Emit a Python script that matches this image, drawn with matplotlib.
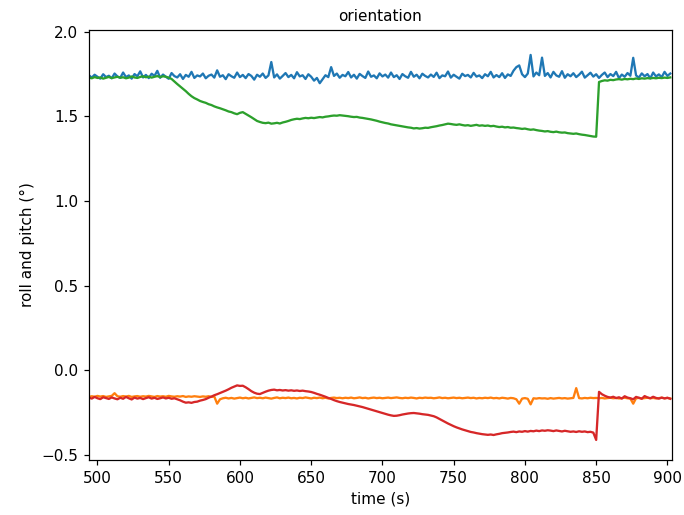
import numpy as np
import matplotlib
matplotlib.use("Agg")
import matplotlib.pyplot as plt

# time axis, one sample every 2 s
t = np.arange(494, 903, 2)

roll_a = [
    1.742, 1.728, 1.745, 1.733, 1.722, 1.748, 1.731, 1.739, 1.724, 1.752,
    1.735, 1.727, 1.758, 1.731, 1.741, 1.722, 1.749, 1.736, 1.765, 1.729,
    1.744, 1.725, 1.751, 1.738, 1.768, 1.727, 1.746, 1.733, 1.721, 1.755,
    1.737, 1.729, 1.748, 1.720, 1.744, 1.733, 1.762, 1.726, 1.741, 1.735,
    1.752, 1.724, 1.739, 1.746, 1.728, 1.771, 1.733, 1.742, 1.719, 1.748,
    1.736, 1.727, 1.758, 1.731, 1.744, 1.725, 1.749, 1.738, 1.716, 1.745,
    1.733, 1.752, 1.726, 1.741, 1.820, 1.729, 1.747, 1.722, 1.738, 1.755,
    1.731, 1.744, 1.724, 1.760, 1.735, 1.742, 1.720, 1.748, 1.733, 1.710,
    1.726, 1.695, 1.718, 1.742, 1.731, 1.790, 1.738, 1.752, 1.727, 1.744,
    1.736, 1.761, 1.729, 1.745, 1.722, 1.750, 1.737, 1.726, 1.764, 1.733,
    1.741, 1.724, 1.753, 1.735, 1.746, 1.728, 1.758, 1.731, 1.742, 1.720,
    1.749, 1.736, 1.727, 1.762, 1.733, 1.745, 1.724, 1.751, 1.738, 1.729,
    1.746, 1.732, 1.757, 1.725, 1.741, 1.736, 1.764, 1.728, 1.745, 1.733,
    1.722, 1.751, 1.737, 1.744, 1.729, 1.756, 1.734, 1.741, 1.725, 1.748,
    1.736, 1.762, 1.729, 1.743, 1.731, 1.754, 1.726, 1.747, 1.738, 1.769,
    1.790, 1.800, 1.748, 1.731, 1.752, 1.862, 1.735, 1.758, 1.742, 1.846,
    1.738, 1.755, 1.729, 1.762, 1.741, 1.733, 1.766, 1.727, 1.748, 1.736,
    1.754, 1.731, 1.745, 1.763, 1.728, 1.742, 1.757, 1.734, 1.748, 1.726,
    1.744, 1.758, 1.731, 1.749, 1.737, 1.762, 1.725, 1.746, 1.733, 1.755,
    1.739, 1.845, 1.741, 1.728, 1.753, 1.736, 1.749, 1.724, 1.758, 1.735,
    1.747, 1.731, 1.762, 1.738, 1.752,
]

pitch_a = [
    -0.158, -0.154, -0.157, -0.152, -0.156, -0.153, -0.158, -0.155, -0.152, -0.136,
    -0.154, -0.157, -0.153, -0.156, -0.152, -0.158, -0.155, -0.153, -0.157, -0.154,
    -0.156, -0.152, -0.155, -0.158, -0.153, -0.156, -0.154, -0.157, -0.152, -0.155,
    -0.157, -0.154, -0.156, -0.153, -0.158, -0.155, -0.157, -0.154, -0.156, -0.158,
    -0.155, -0.157, -0.154, -0.158, -0.156, -0.198, -0.172, -0.166, -0.163, -0.167,
    -0.164, -0.168, -0.165, -0.162, -0.166, -0.163, -0.167, -0.164, -0.161, -0.165,
    -0.163, -0.166, -0.162, -0.165, -0.168, -0.164, -0.161, -0.166, -0.163, -0.165,
    -0.162, -0.166, -0.164, -0.167, -0.163, -0.165, -0.161, -0.164, -0.167, -0.163,
    -0.165, -0.162, -0.166, -0.163, -0.167, -0.164, -0.162, -0.165, -0.163, -0.166,
    -0.163, -0.165, -0.162, -0.166, -0.164, -0.161, -0.165, -0.163, -0.167, -0.164,
    -0.162, -0.165, -0.163, -0.166, -0.164, -0.162, -0.165, -0.163, -0.161, -0.164,
    -0.166, -0.163, -0.165, -0.162, -0.164, -0.167, -0.163, -0.165, -0.162, -0.164,
    -0.163, -0.166, -0.164, -0.161, -0.165, -0.163, -0.166, -0.164, -0.162, -0.165,
    -0.163, -0.166, -0.164, -0.162, -0.165, -0.163, -0.167, -0.164, -0.166, -0.163,
    -0.165, -0.162, -0.166, -0.164, -0.167, -0.163, -0.165, -0.168, -0.164, -0.166,
    -0.172, -0.198, -0.168, -0.165, -0.169, -0.202, -0.166, -0.168, -0.165, -0.167,
    -0.166, -0.169, -0.165, -0.168, -0.166, -0.164, -0.167, -0.165, -0.168, -0.166,
    -0.164, -0.106, -0.165, -0.167, -0.164, -0.166, -0.163, -0.165, -0.164, -0.166,
    -0.164, -0.167, -0.165, -0.163, -0.166, -0.164, -0.167, -0.165, -0.163, -0.166,
    -0.168, -0.198, -0.166, -0.164, -0.167, -0.165, -0.163, -0.166, -0.164, -0.167,
    -0.165, -0.163, -0.166, -0.164, -0.167,
]

roll_b = [
    1.728, 1.724, 1.731, 1.726, 1.729, 1.722, 1.727, 1.732, 1.725, 1.729,
    1.733, 1.727, 1.730, 1.724, 1.728, 1.735, 1.729, 1.726, 1.732, 1.736,
    1.730, 1.734, 1.728, 1.733, 1.737, 1.731, 1.736, 1.733, 1.728, 1.720,
    1.705, 1.690, 1.676, 1.662, 1.648, 1.632, 1.618, 1.607, 1.599, 1.590,
    1.584, 1.579, 1.571, 1.566, 1.558, 1.552, 1.547, 1.541, 1.535, 1.528,
    1.524, 1.517, 1.512, 1.520, 1.524, 1.514, 1.504, 1.494, 1.483, 1.472,
    1.466, 1.461, 1.459, 1.462, 1.456, 1.458, 1.461, 1.457, 1.463, 1.467,
    1.472, 1.478, 1.482, 1.485, 1.483, 1.487, 1.490, 1.488, 1.491, 1.489,
    1.492, 1.495, 1.493, 1.497, 1.499, 1.502, 1.504, 1.503, 1.506, 1.504,
    1.502, 1.500, 1.497, 1.495, 1.496, 1.492, 1.490, 1.487, 1.484, 1.481,
    1.477, 1.473, 1.468, 1.464, 1.460, 1.457, 1.452, 1.449, 1.446, 1.443,
    1.440, 1.437, 1.434, 1.432, 1.428, 1.430, 1.427, 1.429, 1.432, 1.431,
    1.435, 1.438, 1.441, 1.445, 1.448, 1.452, 1.456, 1.454, 1.451, 1.449,
    1.452, 1.448, 1.445, 1.447, 1.443, 1.446, 1.449, 1.444, 1.446, 1.443,
    1.445, 1.441, 1.443, 1.439, 1.436, 1.438, 1.434, 1.436, 1.432, 1.433,
    1.430, 1.428, 1.425, 1.427, 1.423, 1.420, 1.422, 1.418, 1.415, 1.413,
    1.410, 1.412, 1.408, 1.406, 1.409, 1.405, 1.403, 1.404, 1.400, 1.398,
    1.396, 1.398, 1.394, 1.391, 1.389, 1.386, 1.383, 1.380, 1.379, 1.702,
    1.708, 1.712, 1.710, 1.715, 1.713, 1.717, 1.719, 1.716, 1.720, 1.718,
    1.721, 1.719, 1.723, 1.720, 1.724, 1.722, 1.725, 1.723, 1.726, 1.724,
    1.727, 1.725, 1.728, 1.726, 1.729,
]

pitch_b = [
    -0.162, -0.168, -0.158, -0.166, -0.171, -0.160, -0.165, -0.170, -0.161, -0.167,
    -0.172, -0.163, -0.169, -0.158, -0.166, -0.173, -0.162, -0.168, -0.164, -0.171,
    -0.165, -0.160, -0.168, -0.163, -0.170, -0.166, -0.161, -0.167, -0.163, -0.169,
    -0.166, -0.172, -0.178, -0.186, -0.192, -0.190, -0.193, -0.188, -0.186, -0.180,
    -0.176, -0.171, -0.163, -0.156, -0.148, -0.142, -0.135, -0.128, -0.121, -0.113,
    -0.104, -0.097, -0.090, -0.093, -0.092, -0.101, -0.112, -0.124, -0.133, -0.139,
    -0.141, -0.134, -0.127, -0.121, -0.117, -0.115, -0.119, -0.117, -0.120, -0.118,
    -0.121, -0.119, -0.122, -0.120, -0.123, -0.121, -0.124, -0.126, -0.129, -0.134,
    -0.140, -0.145, -0.151, -0.157, -0.164, -0.170, -0.177, -0.183, -0.188, -0.192,
    -0.196, -0.200, -0.203, -0.206, -0.210, -0.214, -0.218, -0.223, -0.228, -0.233,
    -0.238, -0.243, -0.248, -0.253, -0.258, -0.263, -0.267, -0.270, -0.269, -0.266,
    -0.262, -0.259, -0.256, -0.254, -0.253, -0.255, -0.257, -0.260, -0.262, -0.264,
    -0.268, -0.272, -0.279, -0.288, -0.297, -0.306, -0.315, -0.323, -0.331, -0.338,
    -0.344, -0.350, -0.355, -0.360, -0.365, -0.368, -0.372, -0.375, -0.378, -0.380,
    -0.382, -0.380, -0.383, -0.379, -0.376, -0.372, -0.370, -0.368, -0.365, -0.363,
    -0.366, -0.362, -0.364, -0.360, -0.363, -0.359, -0.361, -0.357, -0.360, -0.356,
    -0.358, -0.355, -0.357, -0.360, -0.356, -0.359, -0.362, -0.358, -0.361, -0.364,
    -0.362, -0.365, -0.361, -0.364, -0.362, -0.366, -0.364, -0.369, -0.412, -0.128,
    -0.142, -0.151, -0.158, -0.162, -0.157, -0.165, -0.160, -0.168, -0.154, -0.162,
    -0.166, -0.172, -0.158, -0.163, -0.169, -0.153, -0.161, -0.166, -0.157, -0.164,
    -0.168, -0.162, -0.167, -0.163, -0.169,
]

DPI = 110
fig = plt.figure(figsize=(684 / DPI, 515 / DPI), dpi=DPI)
ax = fig.add_axes([0.130, 0.107, 0.852, 0.835])

ax.plot(t, roll_a)
ax.plot(t, pitch_a)
ax.plot(t, roll_b)
ax.plot(t, pitch_b)

ax.set_xlim(494, 903)
ax.set_ylim(-0.53, 2.01)
ax.set_title("orientation", fontsize=10)
ax.set_xlabel("time (s)")
ax.set_ylabel("roll and pitch (°)")

fig.savefig("out.png", dpi=DPI)
